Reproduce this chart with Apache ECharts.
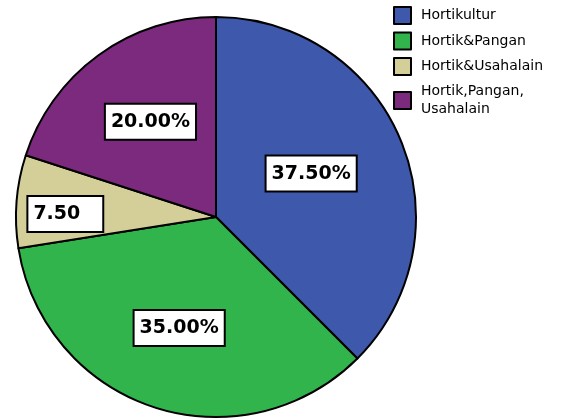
<!DOCTYPE html>
<html>
<head>
<meta charset="utf-8">
<script src="https://cdn.jsdelivr.net/npm/echarts@6/dist/echarts.min.js"></script>
<style>html,body{margin:0;padding:0;background:#fff;}#c{width:563px;height:418px;}</style>
</head>
<body>
<div id="c"></div>
<script>
const categories = ['Hortikultur', 'Hortik&Pangan', 'Hortik&Usahalain', 'Hortik,Pangan,\nUsahalain'];
const values = [37.5, 35.0, 7.5, 20.0];
const labelTexts = ['37.50%', '35.00%', '7.50', '20.00%'];

const colors = ['#3e58ac', '#31b44b', '#d4ce99', '#7b2a7e'];
const labelOffsets = [[0, -4], [-5, 13], [-48, 5], [-5, -12]];
const labelPads = [[6, 5, 6, 5], [6, 5, 6, 5], [6, 22, 6, 5], [6, 5, 6, 5]];

const chart = echarts.init(document.getElementById('c'), null, {renderer: 'canvas'});
chart.setOption({
  animation: false,
  color: colors,
  legend: {
    orient: 'vertical',
    left: 393,
    top: 6,
    padding: 0,
    itemWidth: 17,
    itemHeight: 17,
    itemGap: 6.5,
    icon: 'rect',
    itemStyle: {borderColor: '#000', borderWidth: 2},
    textStyle: {fontFamily: 'DejaVu Sans', fontSize: 14, color: '#000', lineHeight: 18, padding: [0, 0, 0, 5]},
    data: categories
  },
  series: [{
    type: 'pie',
    center: [216, 217],
    radius: 200,
    startAngle: 90,
    clockwise: true,
    silent: true,
    itemStyle: {borderColor: '#000', borderWidth: 2},
    labelLine: {show: false},
    data: categories.map((name, i) => ({
      name: name,
      value: values[i],
      label: {offset: labelOffsets[i], padding: labelPads[i]}
    })),
    label: {
      show: true,
      position: 'inside',
      formatter: p => labelTexts[p.dataIndex],
      fontFamily: 'DejaVu Sans',
      fontWeight: 'bold',
      fontSize: 19,
      lineHeight: 22,
      color: '#000',
      backgroundColor: '#fff',
      borderColor: '#000',
      borderWidth: 2
    }
  }]
});
</script>
</body>
</html>
